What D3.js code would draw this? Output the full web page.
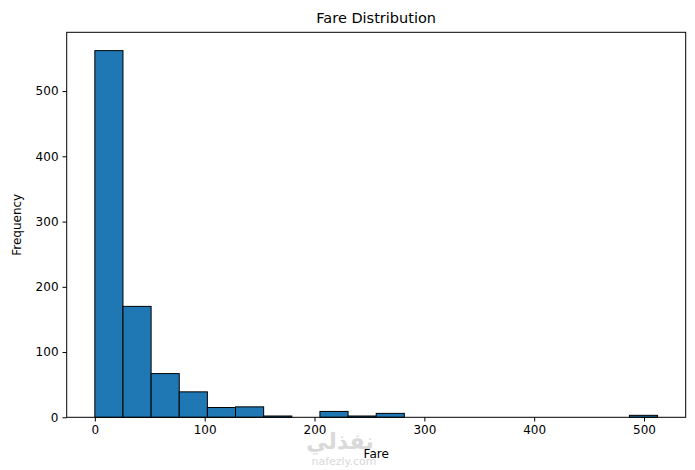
<!DOCTYPE html>
<html>
<head>
<script src="https://cdn.jsdelivr.net/npm/d3@7"></script>
<style>
  body { margin: 0; background: #fff; }
  text { font-family: "DejaVu Sans", sans-serif; }
</style>
</head>
<body>
<div id="viz"></div>
<script>
// 20 bins of Fare, 0 .. 512.3292
var binStart = 0, binEnd = 512.3292, binCount = 20;
var counts = [562, 170, 67, 39, 15, 16, 2, 0, 9, 2, 6, 0, 0, 0, 0, 0, 0, 0, 0, 3];
var xTicks = [0, 100, 200, 300, 400, 500];
var yTicks = [0, 100, 200, 300, 400, 500];

var W = 695, H = 470;
var plotL = 66.7, plotR = 685.7, plotT = 32.3, plotB = 417.3;

var binW = (binEnd - binStart) / binCount;
var bins = counts.map(function(c, i) {
  return { x0: binStart + i * binW, x1: binStart + (i + 1) * binW, n: c };
});

var xPad = (binEnd - binStart) * 0.05;
var x = d3.scaleLinear().domain([binStart - xPad, binEnd + xPad]).range([plotL, plotR]);
var yMax = d3.max(counts) * 1.05;
var y = d3.scaleLinear().domain([0, yMax]).range([plotB, plotT]);

var svg = d3.select("#viz").append("svg")
  .attr("width", W).attr("height", H);

svg.selectAll("rect.bar").data(bins).enter().append("rect")
  .attr("class", "bar")
  .attr("x", function(d) { return x(d.x0); })
  .attr("y", function(d) { return y(d.n); })
  .attr("width", function(d) { return x(d.x1) - x(d.x0); })
  .attr("height", function(d) { return y(0) - y(d.n); })
  .style("fill", "#1f77b4")
  .style("stroke", "#000")
  .style("stroke-width", 1);

// frame
svg.append("rect")
  .attr("x", plotL).attr("y", plotT)
  .attr("width", plotR - plotL).attr("height", plotB - plotT)
  .style("fill", "none").style("stroke", "#000").style("stroke-width", 1);

var xAxis = svg.append("g")
  .attr("transform", "translate(0," + plotB + ")")
  .call(d3.axisBottom(x).tickValues(xTicks).tickSize(4.2).tickPadding(4));
var yAxis = svg.append("g")
  .attr("transform", "translate(" + plotL + ",0)")
  .call(d3.axisLeft(y).tickValues(yTicks).tickSize(4.2).tickPadding(4));

[xAxis, yAxis].forEach(function(a) {
  a.select(".domain").remove();
  a.selectAll("text").style("font-size", "12px").style("fill", "#000")
    .style("font-family", "'DejaVu Sans', sans-serif");
  a.selectAll("line").style("stroke", "#000");
});

svg.append("text")
  .attr("x", (plotL + plotR) / 2).attr("y", 23)
  .attr("text-anchor", "middle")
  .style("font-size", "14.5px")
  .text("Fare Distribution");

svg.append("text")
  .attr("x", (plotL + plotR) / 2).attr("y", 458)
  .attr("text-anchor", "middle")
  .style("font-size", "12px")
  .text("Fare");

svg.append("text")
  .attr("transform", "translate(21," + ((plotT + plotB) / 2) + ") rotate(-90)")
  .attr("text-anchor", "middle")
  .style("font-size", "12px")
  .text("Frequency");

// watermark
svg.append("text")
  .attr("x", 340).attr("y", 449)
  .attr("text-anchor", "middle")
  .style("font-size", "22px").style("font-weight", "bold")
  .style("fill", "#d0d0d0").style("opacity", 0.8)
  .text("نفذلي");
svg.append("text")
  .attr("x", 344).attr("y", 465)
  .attr("text-anchor", "middle")
  .style("font-size", "11px")
  .style("fill", "#d0d0d0").style("opacity", 0.8)
  .text("nafezly.com");
</script>
</body>
</html>
